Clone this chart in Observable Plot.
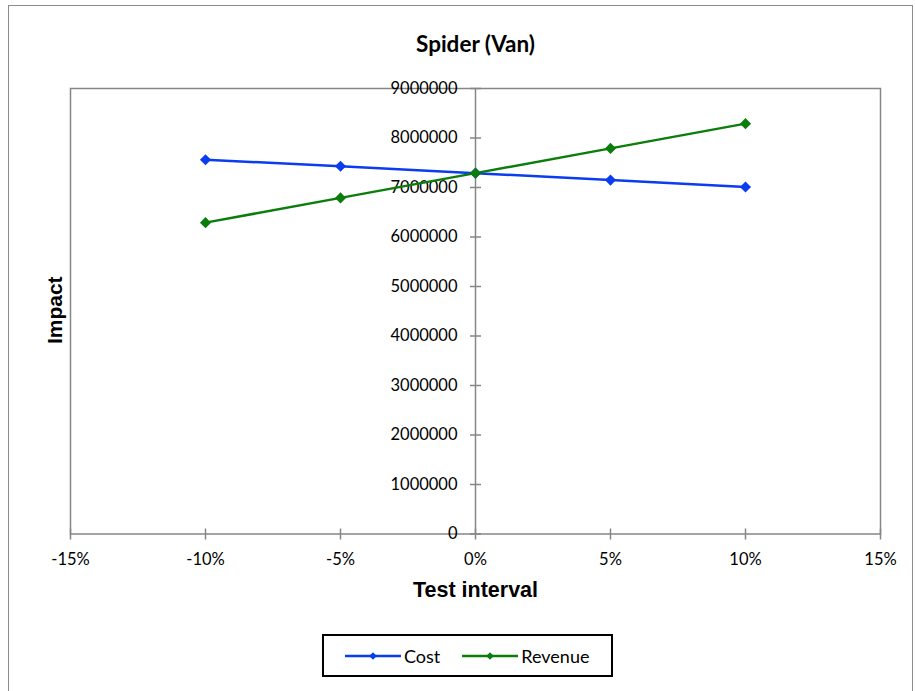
<!DOCTYPE html>
<html>
<head>
<meta charset="utf-8">
<script src="https://cdn.jsdelivr.net/npm/d3@7"></script>
<script src="https://cdn.jsdelivr.net/npm/@observablehq/plot@0.6"></script>
<style>
  html, body { margin: 0; padding: 0; background: #fff; }
  #chart { position: relative; width: 915px; height: 691px; overflow: hidden; }
  #border { position: absolute; left: 8px; top: 5px; width: 905px; height: 700px;
            border: 1.5px solid #8c8c8c; box-sizing: border-box; }
  #plot { position: absolute; left: 0; top: 0; }
  #legend { position: absolute; left: 322px; top: 634px; width: 291px; height: 43px;
            border: 2px solid #000; box-sizing: border-box; background: #fff;
            display: flex; align-items: center; font-family: Lato, sans-serif; font-size: 18px; color: #000; }
  .item { display: flex; align-items: center; }
  .item svg { display: block; }
</style>
</head>
<body>
<div id="chart">
  <div id="border"></div>
  <div id="plot"></div>
  <div id="legend"></div>
</div>
<script>
// Sensitivity of the van model: impact at each test interval
const intervals = [-0.10, -0.05, 0, 0.05, 0.10];
const cost = [7560000, 7430000, 7290000, 7150000, 7010000];
const revenue = [6290000, 6790000, 7290000, 7790000, 8290000];

const seriesNames = ["Cost", "Revenue"];
const seriesColors = ["#0a3cf0", "#0a7d0a"];

const xTicks = [-0.15, -0.10, -0.05, 0, 0.05, 0.10, 0.15];
const yTicks = [0, 1000000, 2000000, 3000000, 4000000, 5000000, 6000000, 7000000, 8000000, 9000000];

const rows = [
  ...intervals.map((x, i) => ({series: "Cost", x, value: cost[i]})),
  ...intervals.map((x, i) => ({series: "Revenue", x, value: revenue[i]}))
];

const axisGray = "#868686";
// short line glyphs used as axis tick marks that straddle the axis
const hTick = {draw(ctx) { ctx.moveTo(-5.5, 0); ctx.lineTo(5.5, 0); }};
const vTick = {draw(ctx) { ctx.moveTo(0, -5.5); ctx.lineTo(0, 5.5); }};

// percent labels with a plain hyphen for negatives
const pct = d3.formatLocale({decimal: ".", thousands: ",", grouping: [3], currency: ["", ""], minus: "-"}).format(".0%");

const plot = Plot.plot({
  width: 915,
  height: 691,
  marginLeft: 70,
  marginRight: 35,
  marginTop: 88,
  marginBottom: 157.5,
  style: {fontFamily: "Lato, sans-serif", fontSize: "16px", background: "transparent"},
  x: {domain: [-0.15, 0.15], axis: null},
  y: {domain: [0, 9000000], axis: null},
  color: {domain: seriesNames, range: seriesColors},
  marks: [
    Plot.frame({stroke: axisGray, strokeWidth: 1.5}),
    // vertical value axis sits at the 0% interval
    Plot.ruleX([0], {stroke: axisGray, strokeWidth: 1.5}),
    Plot.dot(yTicks, {x: 0, y: d => d, symbol: hTick, fill: "none", stroke: axisGray, strokeWidth: 1.5}),
    Plot.text(yTicks, {x: 0, y: d => d, text: d => String(d), textAnchor: "end", dx: -18, fill: "#000", fontSize: 16.5}),
    Plot.dot(xTicks, {x: d => d, y: 0, symbol: vTick, fill: "none", stroke: axisGray, strokeWidth: 1.5}),
    Plot.text(xTicks, {x: d => d, y: 0, text: d => pct(d), dy: 25.5, fill: "#000", fontSize: 16.5}),
    // series
    Plot.line(rows, {x: "x", y: "value", z: "series", stroke: "series", strokeWidth: 2.5}),
    Plot.dot(rows, {x: "x", y: "value", fill: "series", symbol: "diamond2", r: 5}),
    // titles
    Plot.text(["Spider (Van)"], {frameAnchor: "top", dy: -52, fontSize: 22.5, fontWeight: "bold", fill: "#000"}),
    Plot.text(["Test interval"], {frameAnchor: "bottom", dy: 63, fontSize: 21.5, fontWeight: "bold", fill: "#000", fontFamily: "Liberation Sans, Arial, sans-serif"}),
    Plot.text(["Impact"], {frameAnchor: "left", textAnchor: "middle", dx: -15, dy: -1, rotate: -90, fontSize: 21, fontWeight: "bold", fill: "#000", fontFamily: "Liberation Sans, Arial, sans-serif"})
  ]
});
document.getElementById("plot").append(plot);

// legend: line with a diamond marker, then the series name
const legend = document.getElementById("legend");
const offsets = [21, 22];
seriesNames.forEach((name, i) => {
  const item = document.createElement("div");
  item.className = "item";
  item.style.marginLeft = offsets[i] + "px";
  item.innerHTML =
    `<svg width="56" height="12"><line x1="0" y1="6" x2="56" y2="6" stroke="${seriesColors[i]}" stroke-width="2.5"/>` +
    `<path d="M28,2.2L31.8,6L28,9.8L24.2,6Z" fill="${seriesColors[i]}"/></svg>` +
    `<span style="margin-left:3px">${name}</span>`;
  legend.append(item);
});
</script>
</body>
</html>
